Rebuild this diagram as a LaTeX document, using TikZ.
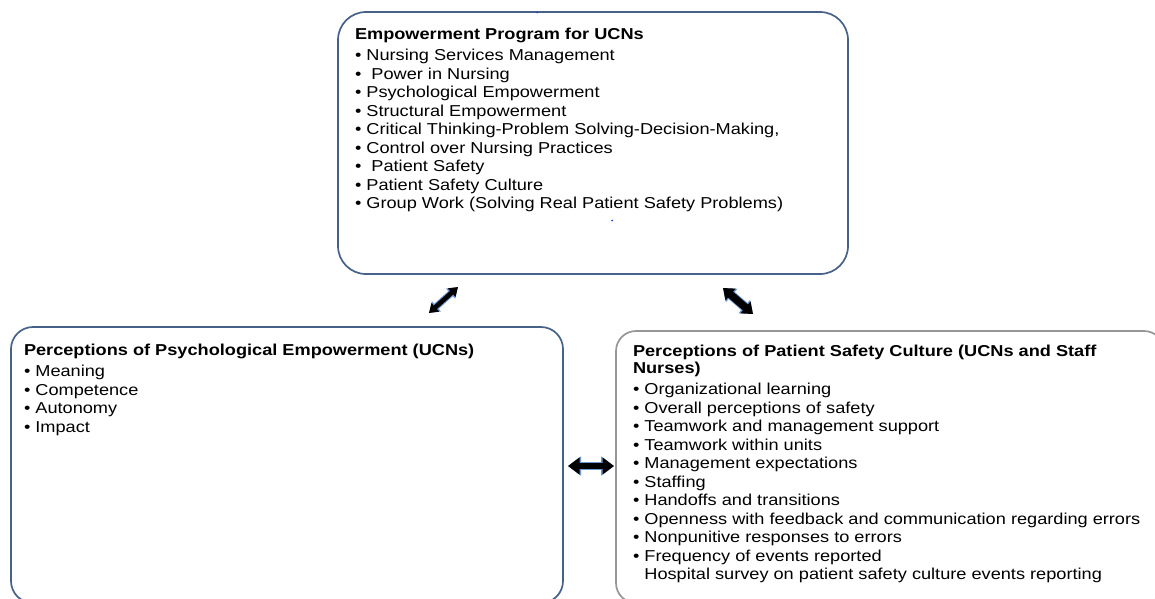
\documentclass[tikz,border=0pt]{standalone}
\usepackage{fontspec}
\setmainfont{Liberation Sans}[FakeStretch=1.15]
\usetikzlibrary{arrows.meta}
\definecolor{boxblue}{RGB}{70,98,136}
\definecolor{boxgray}{RGB}{150,150,150}
\definecolor{glow}{RGB}{110,150,210}
\definecolor{dotblue}{RGB}{40,60,230}
\newcommand{\bul}{\textbullet\ }
\begin{document}
\begin{tikzpicture}[x=1pt,y=-1pt,
  bluebox/.style={draw=boxblue, line width=1.7pt, anchor=north west, inner sep=0pt, outer sep=0pt},
  graybox/.style={draw=boxgray, line width=1.7pt, anchor=north west, inner sep=0pt, outer sep=0pt},
  txt/.style={anchor=base west, inner sep=0pt, outer sep=0pt, font=\fontsize{15.8}{18.5}\selectfont},
  tinydot/.style={fill=dotblue, inner sep=0pt, minimum size=2pt, circle}
]
\clip (0,0) rectangle (1155,598);
\useasboundingbox (0,0) rectangle (1155,598);
\fill[white] (0,0) rectangle (1155,598);

% boxes
\node[bluebox, rounded corners=28pt, minimum width=510pt, minimum height=262pt] (top) at (338,12) {};
\node[bluebox, rounded corners=22pt, minimum width=552pt, minimum height=276pt] (left) at (11,327) {};
\node[graybox, rounded corners=20pt, minimum width=548pt, minimum height=272pt] (right) at (616,331) {};

% texts
\node[txt] (toptext) at (355,39) {\parbox[t]{480pt}{\raggedright
\textbf{Empowerment Program for UCNs}\\[3pt]
\bul Nursing Services Management\\
\bul\ Power in Nursing\\
\bul Psychological Empowerment\\
\bul Structural Empowerment\\
\bul Critical Thinking-Problem Solving-Decision-Making,\\
\bul Control over Nursing Practices\\
\bul\ Patient Safety\\
\bul Patient Safety Culture\\
\bul Group Work (Solving Real Patient Safety Problems)}};

\node[txt] (lefttext) at (24,355) {\parbox[t]{520pt}{\raggedright
\textbf{Perceptions of Psychological Empowerment (UCNs)}\\[3pt]
\bul Meaning\\
\bul Competence\\
\bul Autonomy\\
\bul Impact}};

\node[txt] (righttext) at (633,356) {\parbox[t]{530pt}{\raggedright
\textbf{Perceptions of Patient Safety Culture (UCNs and Staff}\\[-1.5pt]
\textbf{Nurses)}\\[3pt]
\bul Organizational learning\\
\bul Overall perceptions of safety\\
\bul Teamwork and management support\\
\bul Teamwork within units\\
\bul Management expectations\\
\bul Staffing\\
\bul Handoffs and transitions\\
\bul Openness with feedback and communication regarding errors\\
\bul Nonpunitive responses to errors\\
\bul Frequency of events reported\\
\hphantom{\textbullet}\ Hospital survey on patient safety culture events reporting}};

% tiny blue handle dots
\node[tinydot] (d1) at (537,12.5) {};
\node[tinydot] (d2) at (612,220.5) {};

% arrows
\coordinate (la1) at (429,313);
\coordinate (la2) at (458,287);
\coordinate (ra1) at (723,288);
\coordinate (ra2) at (753,314);
\coordinate (ha1) at (568,466);
\coordinate (ha2) at (614,466);

\draw[glow, line width=6.8pt, {Triangle[width=13pt,length=10pt]}-{Triangle[width=13pt,length=10pt]}] (la1) -- (la2);
\draw[black, line width=4.6pt, {Triangle[width=11pt,length=8.5pt]}-{Triangle[width=11pt,length=8.5pt]}] (la1) -- (la2);

\draw[glow, line width=9.4pt, {Triangle[width=17pt,length=11.5pt]}-{Triangle[width=17pt,length=11.5pt]}] (ra1) -- (ra2);
\draw[black, line width=7.6pt, {Triangle[width=15pt,length=10pt]}-{Triangle[width=15pt,length=10pt]}] (ra1) -- (ra2);

\draw[glow, line width=8.4pt, {Triangle[width=18.5pt,length=13pt]}-{Triangle[width=18.5pt,length=13pt]}] (ha1) -- (ha2);
\draw[black, line width=6.6pt, {Triangle[width=16.5pt,length=11.5pt]}-{Triangle[width=16.5pt,length=11.5pt]}] (ha1) -- (ha2);
\end{tikzpicture}
\end{document}
